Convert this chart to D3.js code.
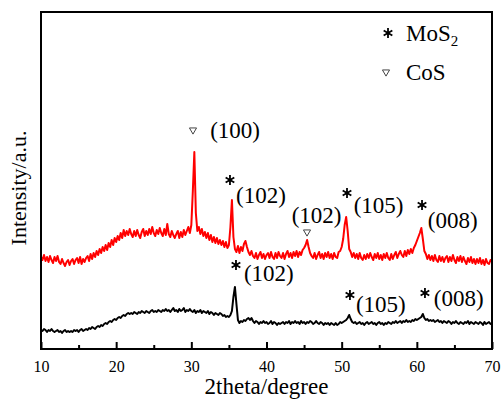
<!DOCTYPE html>
<html>
<head>
<meta charset="utf-8">
<script src="https://cdn.jsdelivr.net/npm/d3@7"></script>
<style>
  html, body { margin: 0; padding: 0; background: #fff; }
  svg { display: block; }
</style>
</head>
<body>
<svg id="chart" width="502" height="402"></svg>
<script>
// Diffraction angle grid: 10° to 70° in 0.2° steps
const twoThetaStart = 10;
const twoThetaStep = 0.2;

// Upper pattern (red), intensity in a.u. (stacked offset included)
const redIntensity = [
  92, 89, 94, 88, 92, 87, 93, 89, 86, 92,
  88, 93, 87, 85, 90, 86, 83, 87, 89, 84,
  88, 90, 85, 89, 91, 86, 92, 85, 90, 87,
  91, 93, 88, 95, 90, 96, 92, 98, 94, 100,
  96, 102, 98, 104, 99, 106, 102, 109, 104, 111,
  107, 113, 109, 116, 111, 119, 113, 118, 114, 120,
  115, 112, 118, 113, 119, 114, 111, 117, 120, 113,
  118, 114, 120, 115, 122, 116, 113, 119, 115, 121,
  116, 113, 120, 114, 125, 115, 112, 118, 114, 111,
  115, 118, 111, 117, 112, 119, 114, 118, 122, 116,
  124, 158, 197, 136, 118, 122, 115, 120, 113, 117,
  111, 116, 109, 114, 107, 112, 106, 111, 105, 109,
  104, 108, 102, 107, 101, 104, 122, 149, 112, 100,
  97, 103, 96, 102, 98, 105, 108, 102, 97, 94,
  98, 93, 91, 96, 90, 94, 97, 91, 95, 90,
  94, 96, 91, 97, 92, 90, 96, 91, 97, 93,
  91, 96, 90, 95, 98, 92, 96, 91, 97, 93,
  98, 92, 97, 94, 99, 101, 104, 109, 102, 96,
  93, 91, 96, 90, 94, 97, 91, 95, 90, 96,
  92, 97, 91, 95, 90, 96, 92, 91, 97, 98,
  102, 110, 124, 132, 118, 100, 97, 92, 96, 91,
  95, 90, 96, 91, 89, 94, 90, 95, 91, 96,
  92, 89, 95, 91, 96, 90, 94, 89, 95, 91,
  96, 91, 89, 95, 90, 94, 97, 91, 95, 98,
  94, 92, 98, 93, 99, 95, 100, 96, 101, 104,
  108, 112, 116, 121, 110, 98, 95, 90, 94, 89,
  93, 88, 94, 89, 87, 93, 88, 92, 87, 91,
  93, 87, 92, 88, 94, 89, 86, 92, 88, 93,
  87, 92, 88, 85, 91, 87, 92, 86, 90, 85,
  90, 86, 91, 85, 89, 84, 90, 86, 85, 89,
  87
];

// Lower pattern (black), intensity in a.u.
const blackIntensity = [
  19, 18, 20, 19, 17, 19, 18, 20, 18, 17,
  18, 19, 17, 18, 16, 18, 19, 17, 18, 17,
  18, 17, 19, 18, 19, 17, 19, 20, 18, 19,
  20, 19, 21, 20, 22, 21, 20, 22, 23, 22,
  24, 23, 25, 26, 25, 27, 28, 27, 29, 30,
  29, 31, 32, 31, 33, 34, 33, 35, 36, 35,
  36, 35, 37, 36, 35, 37, 36, 38, 37, 36,
  38, 37, 36, 38, 39, 37, 38, 37, 39, 38,
  37, 39, 38, 40, 38, 39, 37, 39, 41, 38,
  39, 37, 40, 38, 39, 41, 37, 39, 38, 40,
  38, 37, 39, 36, 38, 37, 39, 36, 38, 37,
  36, 38, 35, 37, 36, 34, 36, 35, 34, 36,
  35, 33, 34, 32, 33, 32, 34, 38, 52, 62,
  45, 29, 26, 28, 27, 29, 28, 30, 31, 29,
  31, 28, 26, 28, 27, 25, 27, 26, 28, 26,
  27, 25, 26, 28, 25, 27, 26, 24, 26, 25,
  26, 27, 25, 27, 26, 28, 25, 27, 26, 28,
  26, 27, 25, 28, 26, 27, 25, 27, 26, 28,
  27, 25, 26, 28, 26, 25, 27, 26, 24, 26,
  25, 26, 24, 26, 25, 24, 26, 24, 25, 27,
  26, 27, 28, 29, 31, 34, 30, 27, 26, 27,
  25, 26, 27, 25, 26, 24, 26, 27, 25, 26,
  27, 25, 26, 24, 26, 27, 25, 26, 24, 26,
  25, 27, 26, 25, 27, 26, 28, 26, 27, 28,
  26, 28, 27, 29, 27, 28, 27, 29, 28, 30,
  29, 30, 31, 32, 35, 31, 29, 30, 28, 29,
  28, 29, 27, 28, 29, 27, 28, 26, 28, 27,
  26, 28, 27, 25, 27, 26, 28, 26, 25, 27,
  26, 25, 27, 26, 28, 25, 27, 26, 25, 27,
  26, 25, 27, 26, 24, 27, 25, 26, 27, 25,
  26
];

// Axis ticks
const majorTicks = [10, 20, 30, 40, 50, 60, 70];
const minorTicks = [15, 25, 35, 45, 55, 65];

// Peak assignments: marker (phase symbol) and Miller index label
const peakLabels = [
  { phase: "CoS",  mx: 30.22, my: 219, text: "(100)", tx: 32.5,  ty: 219 },
  { phase: "MoS2", mx: 35.14, my: 169, text: "(102)", tx: 35.95, ty: 154 },
  { phase: "CoS",  mx: 45.39, my: 117, text: "(102)", tx: 43.35, ty: 134 },
  { phase: "MoS2", mx: 50.71, my: 156, text: "(105)", tx: 51.6,  ty: 144 },
  { phase: "MoS2", mx: 60.69, my: 144, text: "(008)", tx: 61.45, ty: 129 },
  { phase: "MoS2", mx: 35.94, my: 84,  text: "(102)", tx: 37.0,  ty: 76 },
  { phase: "MoS2", mx: 51.1,  my: 54,  text: "(105)", tx: 51.9,  ty: 45 },
  { phase: "MoS2", mx: 61.08, my: 56,  text: "(008)", tx: 62.25, ty: 51 }
];

const FONT = "'Liberation Serif'";
const svg = d3.select("#chart").style("font-family", FONT);
const plot = { left: 41, right: 492, top: 12, bottom: 349 };

const x = d3.scaleLinear().domain([10, 70]).range([plot.left, plot.right]);
const y = d3.scaleLinear().domain([0, 337]).range([plot.bottom, plot.top]);

const angleAt = i => twoThetaStart + i * twoThetaStep;
const line = d3.line()
  .x((d, i) => x(angleAt(i)))
  .y(d => y(d));

// Patterns
svg.append("path")
  .datum(blackIntensity)
  .attr("d", line)
  .attr("fill", "none")
  .attr("stroke", "#000")
  .attr("stroke-width", 2)
  .attr("stroke-linejoin", "round");

svg.append("path")
  .datum(redIntensity)
  .attr("d", line)
  .attr("fill", "none")
  .attr("stroke", "#ff0000")
  .attr("stroke-width", 2)
  .attr("stroke-linejoin", "round");

// Frame
svg.append("rect")
  .attr("x", plot.left)
  .attr("y", plot.top)
  .attr("width", plot.right - plot.left)
  .attr("height", plot.bottom - plot.top)
  .attr("fill", "none")
  .attr("stroke", "#000")
  .attr("stroke-width", 2);

// Bottom axis: inward major ticks with labels, shorter minor ticks
const xAxis = svg.append("g")
  .attr("transform", `translate(0,${plot.bottom})`)
  .call(d3.axisBottom(x).tickValues(majorTicks).tickSizeInner(-7).tickSizeOuter(0).tickPadding(12).tickFormat(d3.format("d")));
xAxis.attr("font-family", null).attr("font-size", null);
xAxis.select(".domain").remove();
xAxis.selectAll(".tick line").attr("stroke-width", 2);
xAxis.selectAll(".tick text")
  .style("font-family", FONT)
  .style("font-size", "16px")
  .attr("fill", "#000");

const xMinor = svg.append("g")
  .attr("transform", `translate(0,${plot.bottom})`)
  .call(d3.axisBottom(x).tickValues(minorTicks).tickSizeInner(-4).tickSizeOuter(0).tickFormat(""));
xMinor.select(".domain").remove();
xMinor.selectAll(".tick line").attr("stroke-width", 2);

// Axis titles
svg.append("text")
  .attr("x", (plot.left + plot.right) / 2)
  .attr("y", 394)
  .attr("text-anchor", "middle")
  .style("font-family", FONT)
  .style("font-size", "23px")
  .text("2theta/degree");

svg.append("text")
  .attr("transform", `translate(26,188) rotate(-90)`)
  .attr("text-anchor", "middle")
  .style("font-family", FONT)
  .style("font-size", "22px")
  .text("Intensity/a.u.");

// Phase markers
const starPath = d3.symbol(d3.symbolAsterisk, 70)();
const triPath = d3.symbol(d3.symbolTriangle, 22)();

function drawMarker(g, phase, cx, cy) {
  if (phase === "MoS2") {
    g.append("path")
      .attr("d", starPath)
      .attr("transform", `translate(${cx},${cy})`)
      .attr("fill", "none")
      .attr("stroke", "#000")
      .attr("stroke-width", 1.8);
  } else {
    g.append("path")
      .attr("d", triPath)
      .attr("transform", `translate(${cx},${cy}) rotate(180)`)
      .attr("fill", "none")
      .attr("stroke", "#444")
      .attr("stroke-width", 1);
  }
}

const ann = svg.append("g");
peakLabels.forEach(p => {
  drawMarker(ann, p.phase, x(p.mx), y(p.my));
  ann.append("text")
    .attr("x", x(p.tx))
    .attr("y", y(p.ty))
    .attr("dy", "0.35em")
    .style("font-family", FONT)
    .style("font-size", "23px")
    .text(p.text);
});

// Legend
const legend = svg.append("g");
drawMarker(legend, "MoS2", 388, 33);
const mosText = legend.append("text")
  .attr("x", 406)
  .attr("y", 33)
  .attr("dy", "0.35em")
  .style("font-family", FONT)
  .style("font-size", "23px");
mosText.append("tspan").text("MoS");
mosText.append("tspan").attr("dy", "5").style("font-size", "15px").text("2");

drawMarker(legend, "CoS", 386, 72);
legend.append("text")
  .attr("x", 406)
  .attr("y", 72)
  .attr("dy", "0.35em")
  .style("font-family", FONT)
  .style("font-size", "23px")
  .text("CoS");
</script>
</body>
</html>
